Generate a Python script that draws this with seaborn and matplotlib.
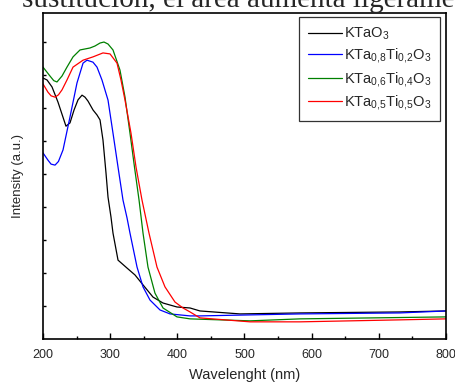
import numpy as np
import pandas as pd
import seaborn as sns
import matplotlib.pyplot as plt

wl_kto = [200, 206.0, 213.4, 222.3, 234.2, 240.2, 246.2, 252.2, 258.1, 262.5, 267.0, 274.5,
          280.4, 284.9, 289.3, 293.8, 296.8, 301.2, 304.2, 311.7, 325.1, 337.0, 348.9, 363.8,
          378.7, 399.5, 418.9, 433.7, 493.3, 582.6, 731.5, 800]
i_kto = [7.91, 7.85, 7.64, 7.18, 6.45, 6.55, 6.94, 7.25, 7.39, 7.33, 7.21, 6.94,
         6.79, 6.64, 6.03, 5.03, 4.30, 3.70, 3.21, 2.39, 2.15, 1.94, 1.64, 1.27,
         1.09, 0.97, 0.94, 0.85, 0.76, 0.79, 0.82, 0.85]

wl_ti02 = [200, 207.4, 212.0, 217.9, 223.0, 229.8, 240.2, 250.6, 259.6, 265.5, 274.4, 280.4,
           287.8, 296.8, 304.2, 311.7, 319.1, 325.1, 329.5, 340.0, 348.9, 359.3, 374.2, 389.1,
           418.9, 433.7, 582.6, 731.5, 800]
i_ti02 = [5.64, 5.42, 5.30, 5.27, 5.38, 5.73, 6.73, 7.76, 8.36, 8.45, 8.39, 8.24,
          7.85, 7.24, 6.24, 5.21, 4.21, 3.67, 3.21, 2.18, 1.58, 1.18, 0.88, 0.76,
          0.70, 0.70, 0.76, 0.79, 0.85]

wl_ti04 = [200, 210.4, 216.0, 220.8, 228.3, 235.7, 244.7, 255.1, 270.0, 277.4, 284.9, 290.8,
           296.8, 304.2, 314.6, 322.1, 329.5, 336.2, 343.0, 348.9, 356.3, 366.7, 378.7, 399.5,
           418.9, 508.2, 582.6, 800]
i_ti04 = [8.24, 7.97, 7.83, 7.79, 7.97, 8.24, 8.55, 8.76, 8.82, 8.88, 8.97, 9.00,
          8.94, 8.76, 8.15, 7.33, 6.24, 5.21, 4.21, 3.21, 2.18, 1.39, 0.94, 0.67,
          0.61, 0.55, 0.61, 0.67]

wl_ti05 = [200, 207.4, 212.0, 217.9, 223.0, 228.3, 235.7, 244.7, 259.6, 274.4, 289.3, 299.8,
           310.2, 316.1, 322.1, 331.0, 338.5, 347.4, 357.8, 369.7, 381.6, 396.5, 408.4, 418.9,
           433.7, 508.2, 582.6, 731.5, 800]
i_ti05 = [7.73, 7.48, 7.37, 7.33, 7.40, 7.55, 7.85, 8.24, 8.45, 8.55, 8.67, 8.64,
          8.36, 7.85, 7.24, 6.24, 5.21, 4.21, 3.21, 2.18, 1.58, 1.12, 0.94, 0.82,
          0.64, 0.52, 0.52, 0.58, 0.61]

labels = ["KTaO$_3$",
          "KTa$_{0{,}8}$Ti$_{0{,}2}$O$_3$",
          "KTa$_{0{,}6}$Ti$_{0{,}4}$O$_3$",
          "KTa$_{0{,}5}$Ti$_{0{,}5}$O$_3$"]
colors = ["#000000", "#0000ff", "#008000", "#ff0000"]

df = pd.concat([
    pd.DataFrame({"wl": wl_kto, "I": i_kto, "s": labels[0]}),
    pd.DataFrame({"wl": wl_ti02, "I": i_ti02, "s": labels[1]}),
    pd.DataFrame({"wl": wl_ti04, "I": i_ti04, "s": labels[2]}),
    pd.DataFrame({"wl": wl_ti05, "I": i_ti05, "s": labels[3]}),
])

sns.set_style("ticks")
plt.rcParams["font.family"] = ["Liberation Sans", "DejaVu Sans"]
plt.rcParams["mathtext.fontset"] = "custom"
plt.rcParams["mathtext.rm"] = "Liberation Sans"
plt.rcParams["mathtext.it"] = "Liberation Sans"

fig = plt.figure(figsize=(4.56, 3.83), dpi=100)
ax = fig.add_axes([43 / 456, 44 / 383, 403 / 456, 326 / 383])

sns.lineplot(data=df, x="wl", y="I", hue="s", hue_order=labels, palette=colors,
             estimator=None, sort=False, linewidth=0.9, ax=ax)

ax.set_xlim(200, 800)
ax.set_ylim(0, 9.88)
ax.set_xticks(np.arange(200, 801, 100))
ax.set_xticks(np.arange(250, 800, 100), minor=True)
ax.set_yticks(np.arange(1, 10))
ax.set_yticklabels([])
ax.tick_params(axis="both", which="both", direction="in", color="black", width=1)
ax.tick_params(axis="x", which="major", length=4, labelsize=9, pad=7)
ax.tick_params(axis="x", which="minor", length=2.5)
ax.tick_params(axis="y", which="major", length=2.5)
for sp in ax.spines.values():
    sp.set_visible(True)
    sp.set_linewidth(1.2)
    sp.set_color("black")

ax.set_xlabel("Wavelenght (nm)", fontsize=10.5, labelpad=5.5)
ax.set_ylabel("Intensity (a.u.)", fontsize=9.5, labelpad=10)

leg = ax.legend(loc="upper right", bbox_to_anchor=(0.985, 0.988), borderaxespad=0,
                fontsize=10.5, frameon=True, fancybox=False, edgecolor="black",
                handlelength=2.3, handletextpad=0.15, labelspacing=0.3, borderpad=0.6,
                title=None)
leg.get_frame().set_linewidth(0.9)

fig.text(22 / 456, 1 - 7 / 383, "sustitución, el área aumenta ligeramente",
         family="Liberation Serif", fontsize=21, va="baseline", ha="left")

fig.savefig("out.png", dpi=100)
